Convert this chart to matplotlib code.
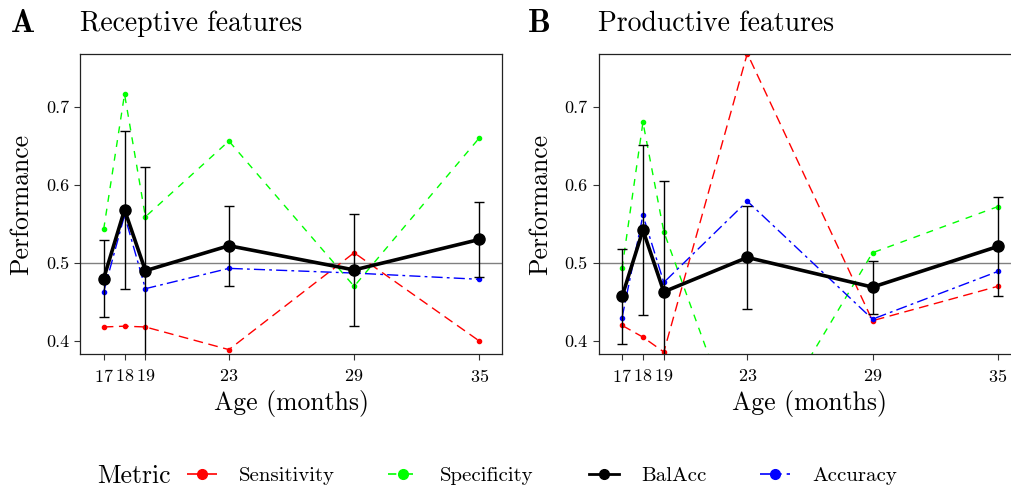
import matplotlib
matplotlib.use("Agg")
import matplotlib.pyplot as plt
from matplotlib.lines import Line2D

plt.rcParams["font.family"] = "cmr10"
plt.rcParams["mathtext.fontset"] = "cm"
plt.rcParams["axes.formatter.use_mathtext"] = True

ages = [17, 18, 19, 23, 29, 35]

# receptive features
rec_sens = [0.418, 0.419, 0.418, 0.389, 0.513, 0.400]
rec_spec = [0.543, 0.716, 0.559, 0.656, 0.470, 0.660]
rec_bal = [0.480, 0.568, 0.490, 0.522, 0.491, 0.530]
rec_bal_se = [0.049, 0.101, 0.133, 0.051, 0.072, 0.048]
rec_acc = [0.463, 0.561, 0.467, 0.493, 0.487, 0.479]

# productive features
pro_sens = [0.420, 0.405, 0.386, 0.768, 0.426, 0.470]
pro_spec = [0.493, 0.680, 0.540, 0.245, 0.513, 0.572]
pro_bal = [0.457, 0.542, 0.463, 0.507, 0.469, 0.521]
pro_bal_se = [0.061, 0.109, 0.142, 0.066, 0.034, 0.063]
pro_acc = [0.430, 0.561, 0.475, 0.579, 0.428, 0.489]

metrics = ["Sensitivity", "Specificity", "BalAcc", "Accuracy"]
colors = {"Sensitivity": "#ff0000", "Specificity": "#00ff00",
          "BalAcc": "black", "Accuracy": "#0000ff"}
dashes = {"Sensitivity": (7, 4), "Specificity": (5, 5),
          "BalAcc": (None, None), "Accuracy": (8, 3, 2, 3)}

W, H = 1012, 486
fig = plt.figure(figsize=(W / 100, H / 100), dpi=100)


def panel(left_px, sens, spec, bal, bal_se, acc):
    ax = fig.add_axes([left_px / W, (H - 354) / H, 422 / W, 299.7 / H])
    ax.axhline(0.5, color="#808080", lw=1.0, zorder=1)
    for name, vals in (("Sensitivity", sens), ("Specificity", spec), ("Accuracy", acc)):
        ax.plot(ages, vals, color=colors[name], lw=1.0, dashes=dashes[name],
                marker="o", ms=3, zorder=2)
    ax.errorbar(ages, bal, yerr=bal_se, fmt="none", ecolor="black",
                elinewidth=1.0, capsize=3.8, capthick=1.0, zorder=3)
    ax.plot(ages, bal, color="black", lw=2.6, marker="o", ms=8, zorder=4)
    ax.set_xlim(15.88, 36.1)
    ax.set_ylim(0.3834, 0.767)
    ax.set_xticks(ages)
    ax.set_yticks([0.4, 0.5, 0.6, 0.7])
    ax.set_yticklabels(["0.4", "0.5", "0.6", "0.7"])
    ax.tick_params(labelsize=13, length=4, width=0.8, color="#333333", pad=4)
    ax.tick_params(axis="x", pad=6)
    for s in ax.spines.values():
        s.set_linewidth(0.9)
        s.set_color("#222222")
    ax.set_xlabel("Age (months)", fontsize=18.5, labelpad=4)
    ax.set_ylabel("Performance", fontsize=18.5, labelpad=9)
    return ax


panel(80.3, rec_sens, rec_spec, rec_bal, rec_bal_se, rec_acc)
panel(598.7, pro_sens, pro_spec, pro_bal, pro_bal_se, pro_acc)

fig.text(11 / W, 1 - 24 / H, "A", family="cmb10", fontsize=23, va="center", ha="left")
fig.text(80 / W, 1 - 24 / H, "Receptive features", fontsize=20, va="center", ha="left")
fig.text(528 / W, 1 - 24 / H, "B", family="cmb10", fontsize=23, va="center", ha="left")
fig.text(598 / W, 1 - 24 / H, "Productive features", fontsize=20, va="center", ha="left")

# legend row
fig.text(97 / W, 1 - 476 / H, "Metric", fontsize=18.5, va="center", ha="left")
for name, x0 in zip(metrics, [187, 388, 589, 760]):
    lw = 2.0 if name == "BalAcc" else 1.2
    h = Line2D([], [], color=colors[name], lw=lw, dashes=dashes[name],
               marker="o", ms=7)
    fig.legend([h], [name], loc="center left", bbox_to_anchor=(x0 / W, 1 - 476 / H),
               frameon=False, fontsize=15, handlelength=1.45, handletextpad=1.05,
               borderpad=0, borderaxespad=0)

fig.savefig("out.png", dpi=100)
